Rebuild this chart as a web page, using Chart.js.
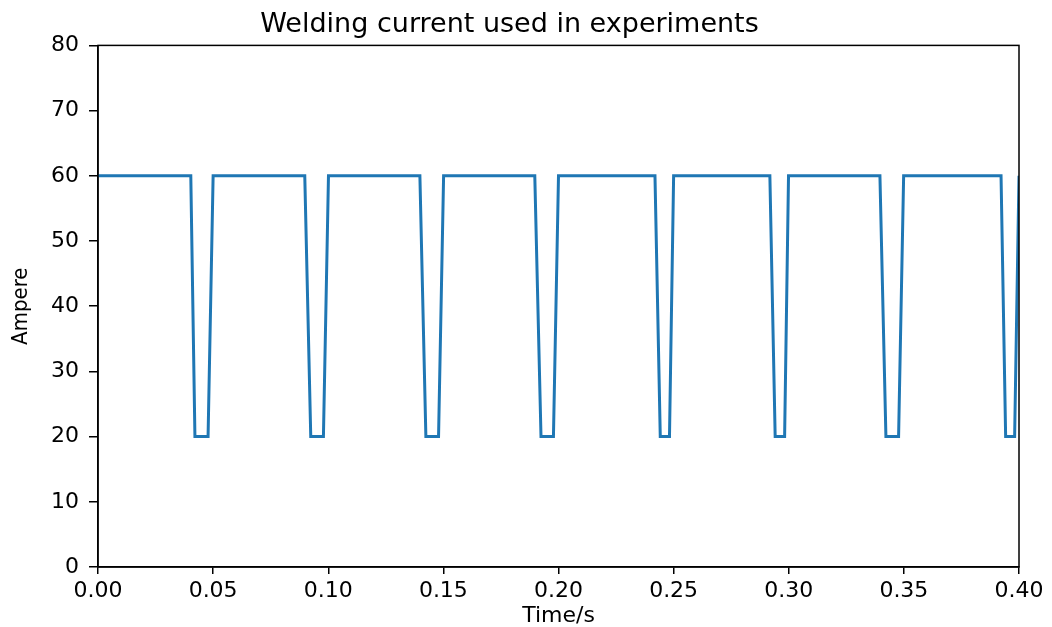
<!DOCTYPE html>
<html>
<head>
<meta charset="utf-8">
<script src="https://cdn.jsdelivr.net/npm/chart.js@4"></script>
<style>
  body { margin: 0; background: #fff; }
  #chart { display: block; }
</style>
</head>
<body>
<canvas id="chart" width="1052" height="627"></canvas>
<script>
// time (s) and current (A), one pulse per row
const times = [
    0.0000,
    0.0403, 0.0421, 0.0478, 0.0500,
    0.0898, 0.0924, 0.0979, 0.1001,
    0.1398, 0.1424, 0.1479, 0.1501,
    0.1897, 0.1924, 0.1978, 0.2000,
    0.2419, 0.2442, 0.2482, 0.2500,
    0.2918, 0.2941, 0.2982, 0.2999,
    0.3396, 0.3422, 0.3477, 0.3499,
    0.3922, 0.3942, 0.3981, 0.4000
];
const amps = [
    60,
    60, 20, 20, 60,
    60, 20, 20, 60,
    60, 20, 20, 60,
    60, 20, 20, 60,
    60, 20, 20, 60,
    60, 20, 20, 60,
    60, 20, 20, 60,
    60, 20, 20, 60
];
const xTicks = [0, 0.05, 0.10, 0.15, 0.20, 0.25, 0.30, 0.35, 0.40];
const yTicks = [0, 10, 20, 30, 40, 50, 60, 70, 80];

const tickFont = { family: 'DejaVu Sans', size: 22 };

// matplotlib-style box around the plot area
const frame = {
    id: 'frame',
    afterDatasetsDraw(chart) {
        const { ctx, chartArea: a } = chart;
        ctx.save();
        ctx.strokeStyle = '#000';
        ctx.lineWidth = 1.5;
        ctx.strokeRect(a.left, a.top, a.right - a.left, a.bottom - a.top);
        ctx.restore();
    }
};

new Chart(document.getElementById('chart'), {
    type: 'line',
    data: {
        datasets: [{
            data: times.map((t, i) => ({ x: t, y: amps[i] })),
            borderColor: '#1f77b4',
            borderWidth: 3,
            pointRadius: 0,
            tension: 0,
            fill: false
        }]
    },
    options: {
        responsive: false,
        animation: false,
        layout: { padding: { left: 0, right: 33, top: 0, bottom: 0 } },
        plugins: {
            legend: { display: false },
            tooltip: { enabled: false },
            title: {
                display: true,
                text: 'Welding current used in experiments',
                color: '#000',
                font: { family: 'DejaVu Sans', size: 27, weight: 'normal', lineHeight: 1.2 },
                padding: { top: 9, bottom: 4 }
            }
        },
        scales: {
            x: {
                type: 'linear',
                min: 0,
                max: 0.4,
                afterBuildTicks: (axis) => { axis.ticks = xTicks.map(v => ({ value: v })); },
                afterFit: (axis) => { axis.height = 60; },
                ticks: {
                    color: '#000',
                    font: tickFont,
                    padding: 4,
                    maxRotation: 0,
                    autoSkip: false,
                    callback: (v) => v.toFixed(2)
                },
                grid: { drawOnChartArea: false, drawTicks: true, tickLength: 7, color: '#000', lineWidth: 1.5 },
                border: { display: true, color: '#000', width: 1.5 },
                title: {
                    display: true,
                    text: 'Time/s',
                    color: '#000',
                    font: { family: 'DejaVu Sans', size: 22, lineHeight: 1 },
                    padding: { top: 0, bottom: 0 }
                }
            },
            y: {
                min: 0,
                max: 80,
                afterBuildTicks: (axis) => { axis.ticks = yTicks.map(v => ({ value: v })); },
                afterFit: (axis) => { axis.width = 98; },
                ticks: { color: '#000', font: tickFont, padding: 10 },
                grid: { drawOnChartArea: false, drawTicks: true, tickLength: 9, color: '#000', lineWidth: 1.5 },
                border: { display: true, color: '#000', width: 1.5 },
                title: {
                    display: true,
                    text: 'Ampere',
                    color: '#000',
                    font: { family: 'DejaVu Sans Condensed, Liberation Sans, sans-serif', size: 22 },
                    padding: { top: 8, bottom: 0 }
                }
            }
        }
    },
    plugins: [frame]
});
</script>
</body>
</html>
